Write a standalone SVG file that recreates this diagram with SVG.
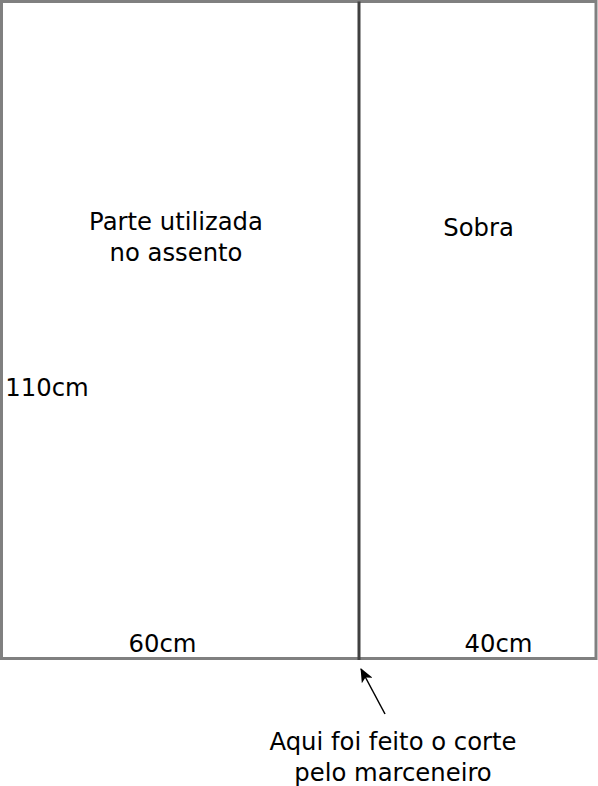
<svg xmlns="http://www.w3.org/2000/svg" width="598" height="786" viewBox="0 0 598 786">
<style>
.t{font-family:"DejaVu Sans",sans-serif;font-size:24.3px;fill:#000;text-anchor:middle}
.box{fill:#fff;stroke:#808080;stroke-width:3}
</style>
<defs>
<marker id="ah" markerWidth="14" markerHeight="12" refX="13" refY="6" orient="auto" markerUnits="userSpaceOnUse">
<path d="M0,0 L14,6 L0,12 L3.5,6 Z" fill="#000"/>
</marker>
</defs>
<rect width="598" height="786" fill="#fff"/>
<g id="outer"><rect class="box" x="1.5" y="1.5" width="594.5" height="657"/></g>
<g id="parte">
<text class="t" x="176" y="230">Parte utilizada</text>
<text class="t" x="176" y="261">no assento</text>
<text class="t" x="47" y="396">110cm</text>
<text class="t" x="162.5" y="652">60cm</text>
</g>
<g id="sobra">
<text class="t" x="478.5" y="236">Sobra</text>
<text class="t" x="498.5" y="652">40cm</text>
</g>
<g id="connectors">
<line x1="359" y1="1.5" x2="359" y2="660" stroke="#404040" stroke-width="3"/>
<line x1="385" y1="714" x2="361" y2="669" stroke="#000" stroke-width="1.5" marker-end="url(#ah)"/>
</g>
<g id="label">
<text class="t" x="393" y="750">Aqui foi feito o corte</text>
<text class="t" x="393" y="781">pelo marceneiro</text>
</g>
</svg>
